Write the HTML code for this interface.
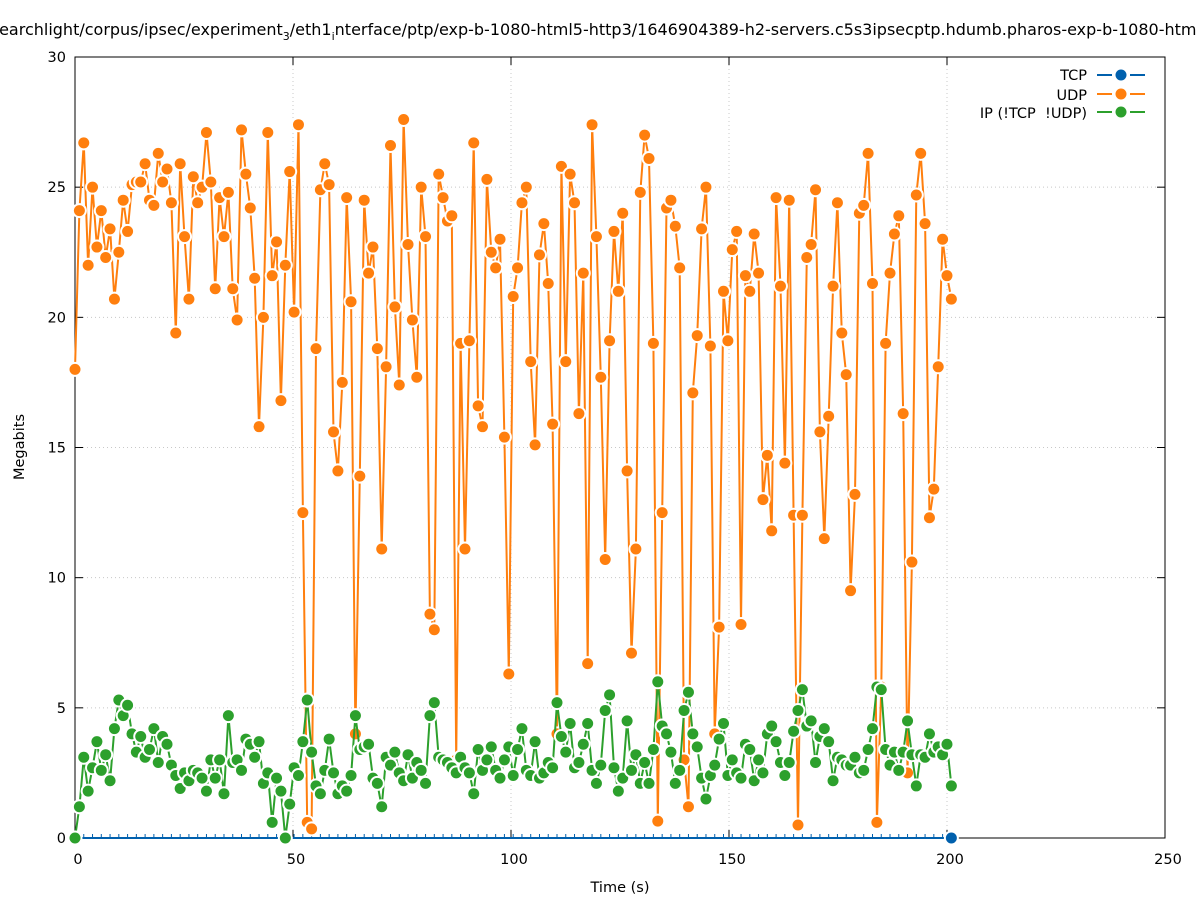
<!DOCTYPE html>
<html><head><meta charset="utf-8"><style>
body{margin:0;background:#fff}
svg text{font-family:"DejaVu Sans","Liberation Sans",sans-serif;font-size:14.5px;fill:#000;white-space:pre}
</style></head><body>
<svg id="s" width="1197" height="900" xmlns="http://www.w3.org/2000/svg">
<rect width="1197" height="900" fill="#fff"/>
<g id="grid" stroke="#c8c8c8" stroke-width="1" stroke-dasharray="1,3"></g>
<rect x="75" y="57" width="1090" height="781" fill="none" stroke="#000" stroke-width="1"/>
<g id="ticks" stroke="#000"></g>
<g id="labels"></g>
<text x="600" y="35" text-anchor="middle" style="font-size:16px">earchlight/corpus/ipsec/experiment<tspan font-size="11" dy="5">3</tspan><tspan dy="-5">/eth1</tspan><tspan font-size="11" dy="5">i</tspan><tspan dy="-5">nterface/ptp/exp-b-1080-html5-http3/1646904389-h2-servers.c5s3ipsecptp.hdumb.pharos-exp-b-1080-html</tspan></text>
<text x="620" y="892" text-anchor="middle">Time (s)</text>
<text x="24" y="447" text-anchor="middle" transform="rotate(-90 24 447)">Megabits</text>
<g id="data"></g>
<g id="legend">
<text x="1087" y="80" text-anchor="end">TCP</text>
<text x="1087" y="100" text-anchor="end">UDP</text>
<text x="1087" y="118" text-anchor="end">IP (!TCP&#160;&#160;!UDP)</text>
</g>
</svg>
<script>
var NS="http://www.w3.org/2000/svg",s=document.getElementById('s');
function el(p,t,a){var e=document.createElementNS(NS,t);for(var k in a)e.setAttribute(k,a[k]);p.appendChild(e);return e;}
function X(t){return 75+t*4.36}function Y(v){return 838-v*26.033}
var g=document.getElementById('grid'),tk=document.getElementById('ticks'),lb=document.getElementById('labels');
for(var t=0;t<=250;t+=50){var x=X(t);if(t>0&&t<250)el(g,'line',{x1:x,y1:57,x2:x,y2:838});
el(tk,'line',{x1:x,y1:838,x2:x,y2:830});el(tk,'line',{x1:x,y1:57,x2:x,y2:65});
el(lb,'text',{x:x+3,y:864,'text-anchor':'middle'}).textContent=t;}
for(var v=0;v<=30;v+=5){var y=Y(v);if(v>0&&v<30)el(g,'line',{x1:75,y1:y,x2:1165,y2:y});
el(tk,'line',{x1:75,y1:y,x2:83,y2:y});el(tk,'line',{x1:1165,y1:y,x2:1157,y2:y});
el(lb,'text',{x:66,y:y+5,'text-anchor':'end'}).textContent=v;}
for(var t=0;t<=200;t+=2){el(tk,'line',{x1:X(t*1.005),y1:838,x2:X(t*1.005),y2:834,stroke:'#0060ad','stroke-width':1});}
var udp=[18,24.1,26.7,22,25,22.7,24.1,22.3,23.4,20.7,22.5,24.5,23.3,25.1,25.2,25.2,25.9,24.5,24.3,26.3,25.2,25.7,24.4,19.4,25.9,23.1,20.7,25.4,24.4,25,27.1,25.2,21.1,24.6,23.1,24.8,21.1,19.9,27.2,25.5,24.2,21.5,15.8,20,27.1,21.6,22.9,16.8,22,25.6,20.2,27.4,12.5,0.6,0.35,18.8,24.9,25.9,25.1,15.6,14.1,17.5,24.6,20.6,4,13.9,24.5,21.7,22.7,18.8,11.1,18.1,26.6,20.4,17.4,27.6,22.8,19.9,17.7,25,23.1,8.6,8,25.5,24.6,23.7,23.9,3,19,11.1,19.1,26.7,16.6,15.8,25.3,22.5,21.9,23,15.4,6.3,20.8,21.9,24.4,25,18.3,15.1,22.4,23.6,21.3,15.9,4,25.8,18.3,25.5,24.4,16.3,21.7,6.7,27.4,23.1,17.7,10.7,19.1,23.3,21,24,14.1,7.1,11.1,24.8,27,26.1,19,0.65,12.5,24.2,24.5,23.5,21.9,3,1.2,17.1,19.3,23.4,25,18.9,4,8.1,21,19.1,22.6,23.3,8.2,21.6,21,23.2,21.7,13,14.7,11.8,24.6,21.2,14.4,24.5,12.4,0.5,12.4,22.3,22.8,24.9,15.6,11.5,16.2,21.2,24.4,19.4,17.8,9.5,13.2,24,24.3,26.3,21.3,0.6,5.8,19,21.7,23.2,23.9,16.3,2.5,10.6,24.7,26.3,23.6,12.3,13.4,18.1,23,21.6,20.7];
var ip=[0,1.2,3.1,1.8,2.7,3.7,2.6,3.2,2.2,4.2,5.3,4.7,5.1,4,3.3,3.9,3.1,3.4,4.2,2.9,3.9,3.6,2.8,2.4,1.9,2.5,2.2,2.6,2.5,2.3,1.8,3,2.3,3,1.7,4.7,2.9,3,2.6,3.8,3.6,3.1,3.7,2.1,2.5,0.6,2.3,1.8,0,1.3,2.7,2.4,3.7,5.3,3.3,2,1.7,2.6,3.8,2.5,1.7,2,1.8,2.4,4.7,3.4,3.5,3.6,2.3,2.1,1.2,3.1,2.8,3.3,2.5,2.2,3.2,2.3,2.9,2.6,2.1,4.7,5.2,3.1,3,2.9,2.7,2.5,3.1,2.7,2.5,1.7,3.4,2.6,3,3.5,2.6,2.3,3,3.5,2.4,3.4,4.2,2.6,2.4,3.7,2.3,2.5,2.9,2.7,5.2,3.9,3.3,4.4,2.7,2.9,3.6,4.4,2.6,2.1,2.8,4.9,5.5,2.7,1.8,2.3,4.5,2.6,3.2,2.1,2.9,2.1,3.4,6,4.3,4,3.3,2.1,2.6,4.9,5.6,4,3.5,2.3,1.5,2.4,2.8,3.8,4.4,2.4,3,2.5,2.3,3.6,3.4,2.2,3,2.5,4,4.3,3.7,2.9,2.4,2.9,4.1,4.9,5.7,4.3,4.5,2.9,3.9,4.2,3.7,2.2,3.1,3,2.8,2.8,3.1,2.5,2.6,3.4,4.2,5.8,5.7,3.4,2.8,3.3,2.6,3.3,4.5,3.2,2,3.2,3.1,4,3.3,3.5,3.2,3.6,2];
var tcp=[];for(var i=0;i<=200;i++)tcp.push(0);
var d=document.getElementById('data');
function PX(i){return X(i*1.005);}
function series(arr,col,pts){var p='';arr.forEach(function(v,i){p+=(i?'L':'M')+PX(i).toFixed(1)+' '+Y(v).toFixed(1)});
el(d,'path',{d:p,fill:'none',stroke:col,'stroke-width':2});
arr.forEach(function(v,i){if(pts&&pts.indexOf(i)<0)return;el(d,'circle',{cx:PX(i),cy:Y(v),r:7.5,fill:'#fff'});el(d,'circle',{cx:PX(i),cy:Y(v),r:5.5,fill:col});});}
series(tcp,'#0060ad',[200]);
series(udp,'#ff7f0e');
series(ip,'#2ca02c');
var L=document.getElementById('legend');
[['#0060ad',75],['#ff7f0e',94],['#2ca02c',112]].forEach(function(a){
el(L,'line',{x1:1097,y1:a[1],x2:1112,y2:a[1],stroke:a[0],'stroke-width':2});
el(L,'line',{x1:1130,y1:a[1],x2:1145,y2:a[1],stroke:a[0],'stroke-width':2});
el(L,'circle',{cx:1121,cy:a[1],r:5.5,fill:a[0]});});
</script>
</body></html>
